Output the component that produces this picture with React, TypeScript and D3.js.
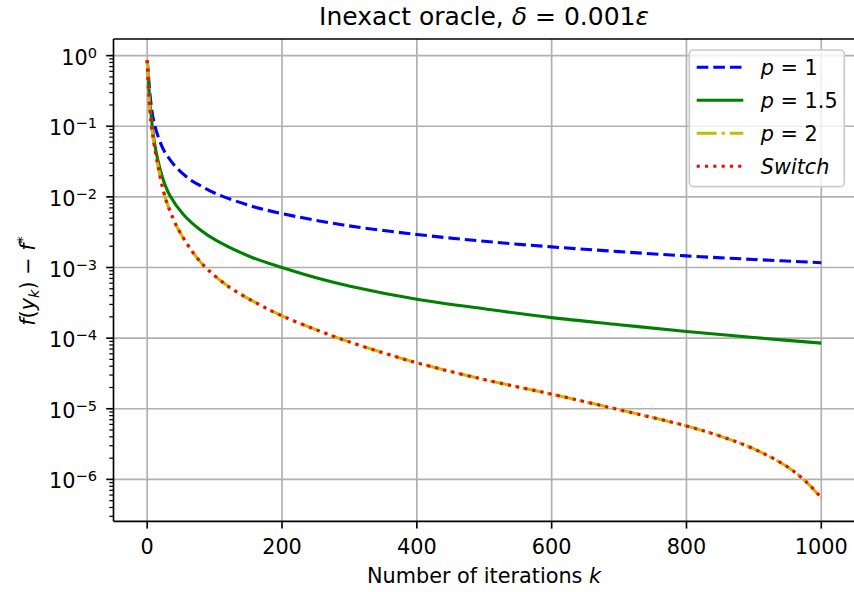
import * as d3 from 'd3'
import React, { useRef, useEffect } from 'react'

// values (log scale), k = iteration
const kP1 = [0, 2, 4.5, 9.4, 17, 25, 34, 45, 64, 80, 103, 153, 200, 291, 400, 500, 600, 700, 800, 900, 1000]
const valP1 = [0.86, 0.5, 0.26, 0.121, 0.068, 0.045, 0.0335, 0.025, 0.0175, 0.0142, 0.011, 0.0075, 0.0058, 0.004, 0.00294, 0.00235, 0.00196, 0.00168, 0.00146, 0.0013, 0.00117]

const kP15 = [0, 2, 4.5, 9.4, 14.4, 24, 34, 54, 79, 103, 153, 200, 252, 301, 400, 500, 600, 700, 800, 900, 1000]
const valP15 = [0.86, 0.42, 0.19, 0.072, 0.038, 0.0172, 0.0103, 0.0056, 0.0034, 0.0024, 0.00142, 0.001, 0.00071, 0.000543, 0.000355, 0.00026, 0.000195, 0.000155, 0.000124, 0.000102, 0.000085]

const kP2 = [0, 2, 4, 7, 14.4, 26.7, 39, 49, 79, 118, 163, 200, 252, 296, 350, 400, 500, 600, 700, 800, 850, 900, 950, 980, 1000]
const valP2 = [0.86, 0.32, 0.17, 0.09, 0.033, 0.0098, 0.0048, 0.0031, 0.0012, 0.00056, 0.00031, 0.000207, 0.00013, 0.000091, 0.000062, 0.0000448, 0.0000259, 0.0000161, 0.0000097, 0.0000057, 0.0000041, 0.0000027, 0.0000015, 0.00000088, 0.00000054]

const kSwitch = [0, 2, 4, 7, 14.4, 26.7, 39, 49, 79, 118, 163, 200, 252, 296, 350, 400, 500, 600, 700, 800, 850, 900, 950, 980, 1000]
const valSwitch = [0.86, 0.32, 0.17, 0.09, 0.033, 0.0098, 0.0048, 0.0031, 0.0012, 0.00056, 0.00031, 0.000207, 0.00013, 0.000091, 0.000062, 0.0000448, 0.0000259, 0.0000161, 0.0000097, 0.0000057, 0.0000041, 0.0000027, 0.0000015, 0.00000088, 0.00000055]

const xTicks = [0, 200, 400, 600, 800, 1000]
const yDecades = [0, -1, -2, -3, -4, -5, -6]
const legendLabels = [['p', ' = 1'], ['p', ' = 1.5'], ['p', ' = 2'], ['Switch', '']]

export default function App() {
    const svgRef = useRef<SVGSVGElement>(null)

    useEffect(() => {
        const W = 854, H = 592
        const left = 113.5, right = 855, top = 39, bottom = 521.3
        const fs = 20.8
        const font = 'DejaVu Sans, sans-serif'

        const svg = d3.select(svgRef.current)
        svg.selectAll('*').remove()
        svg.attr('width', W).attr('height', H).style('font-family', font)

        const x = d3.scaleLinear().domain([-50, 1050]).range([left, right])
        const y = d3.scaleLog().domain([2.55e-7, 1.72]).range([bottom, top])

        svg.append('rect').attr('width', W).attr('height', H).attr('fill', 'white')

        // grid
        const grid = svg.append('g').attr('stroke', '#b0b0b0').attr('stroke-width', 1.67)
        xTicks.forEach(t => {
            grid.append('line').attr('x1', x(t)).attr('x2', x(t)).attr('y1', top).attr('y2', bottom)
        })
        yDecades.forEach(d => {
            grid.append('line').attr('x1', left).attr('x2', right).attr('y1', y(10 ** d)).attr('y2', y(10 ** d))
        })

        // series
        const series = [
            { k: kP1, v: valP1, color: '#0000ff', dash: '11.6,5' },
            { k: kP15, v: valP15, color: '#008000', dash: null },
            { k: kP2, v: valP2, color: '#bfbf00', dash: '20,5,3.1,5' },
            { k: kSwitch, v: valSwitch, color: '#ff0000', dash: '3.1,5.2' },
        ]
        svg.append('clipPath').attr('id', 'plotclip')
            .append('rect').attr('x', left).attr('y', top).attr('width', right - left).attr('height', bottom - top)

        const line = d3.line<[number, number]>()
            .x(d => x(d[0]))
            .y(d => y(d[1]))
            .curve(d3.curveCatmullRom.alpha(0.5))

        const lines = svg.append('g').attr('clip-path', 'url(#plotclip)')
        series.forEach(s => {
            const pts = s.k.map((k, i) => [k, s.v[i]] as [number, number])
            lines.append('path')
                .attr('d', line(pts))
                .attr('fill', 'none')
                .attr('stroke', s.color)
                .attr('stroke-width', 3.1)
                .attr('stroke-dasharray', s.dash)
                .attr('stroke-linejoin', 'round')
        })

        // spines
        const spines = svg.append('g').attr('stroke', 'black').attr('stroke-width', 1.67)
        spines.append('line').attr('x1', left).attr('x2', left).attr('y1', top).attr('y2', bottom)
        spines.append('line').attr('x1', left).attr('x2', right).attr('y1', bottom).attr('y2', bottom)
        spines.append('line').attr('x1', left).attr('x2', right).attr('y1', top).attr('y2', top)
        spines.append('line').attr('x1', right).attr('x2', right).attr('y1', top).attr('y2', bottom)

        // x ticks
        xTicks.forEach(t => {
            svg.append('line').attr('x1', x(t)).attr('x2', x(t)).attr('y1', bottom).attr('y2', bottom + 7.3)
                .attr('stroke', 'black').attr('stroke-width', 1.67)
            svg.append('text').attr('x', x(t)).attr('y', 554).attr('text-anchor', 'middle')
                .attr('font-size', fs).text(t)
        })

        // y ticks (major + minor)
        yDecades.forEach(d => {
            const yy = y(10 ** d)
            svg.append('line').attr('x1', left - 7.3).attr('x2', left).attr('y1', yy).attr('y2', yy)
                .attr('stroke', 'black').attr('stroke-width', 1.67)
            const lab = svg.append('text').attr('x', 97).attr('y', yy + 9).attr('text-anchor', 'end').attr('font-size', fs)
            lab.append('tspan').text('10')
            lab.append('tspan').attr('dy', -7).attr('font-size', 14.6).text(d === 0 ? '0' : '\u2212' + Math.abs(d))
        })
        const [y0, y1] = y.domain()
        for (let d = -7; d <= 0; d++) {
            for (let m = 2; m <= 9; m++) {
                const v = m * 10 ** d
                if (v < y0 || v > y1) continue
                svg.append('line').attr('x1', left - 4.2).attr('x2', left).attr('y1', y(v)).attr('y2', y(v))
                    .attr('stroke', 'black').attr('stroke-width', 1.25)
            }
        }

        // title
        const cx = (left + 854.6) / 2
        const title = svg.append('text').attr('x', cx).attr('y', 25).attr('text-anchor', 'middle').attr('font-size', 25)
        title.append('tspan').text('Inexact oracle, ')
        title.append('tspan').attr('font-style', 'italic').text('δ')
        title.append('tspan').text(' = 0.001')
        title.append('tspan').attr('font-style', 'italic').text('ε')

        // x label
        const xl = svg.append('text').attr('x', cx).attr('y', 583).attr('text-anchor', 'middle').attr('font-size', fs)
        xl.append('tspan').text('Number of iterations ')
        xl.append('tspan').attr('font-style', 'italic').text('k')

        // y label
        const yl = svg.append('text').attr('transform', `translate(35,281) rotate(-90)`)
            .attr('text-anchor', 'middle').attr('font-size', fs)
        yl.append('tspan').attr('font-style', 'italic').text('f')
        yl.append('tspan').text('(')
        yl.append('tspan').attr('font-style', 'italic').text('y')
        yl.append('tspan').attr('font-style', 'italic').attr('font-size', 14.6).attr('dy', 4).text('k')
        yl.append('tspan').attr('dy', -4).text(')')
        yl.append('tspan').text(' \u2212 ')
        yl.append('tspan').attr('font-style', 'italic').text('f')
        yl.append('tspan').attr('font-size', 14.6).attr('dy', -8).text('*')

        // legend
        const lg = svg.append('g')
        lg.append('rect').attr('x', 689.3).attr('y', 50).attr('width', 155).attr('height', 136.7)
            .attr('rx', 4).attr('fill', 'white').attr('fill-opacity', 0.8)
            .attr('stroke', '#cccccc').attr('stroke-width', 1.67)
        series.forEach((s, i) => {
            const ry = 67.3 + i * 33
            lg.append('line').attr('x1', 696.7).attr('x2', 743.3).attr('y1', ry).attr('y2', ry)
                .attr('stroke', s.color).attr('stroke-width', 3.1).attr('stroke-dasharray', s.dash)
            const t = lg.append('text').attr('x', 760.7).attr('y', ry + 7.7).attr('font-size', fs)
            t.append('tspan').attr('font-style', 'italic').text(legendLabels[i][0])
            if (legendLabels[i][1]) t.append('tspan').text(legendLabels[i][1])
        })
    }, [])

    return (
        <svg ref={svgRef} style={{ position: 'absolute', left: 0, top: 0, display: 'block' }}></svg>
    )
}
